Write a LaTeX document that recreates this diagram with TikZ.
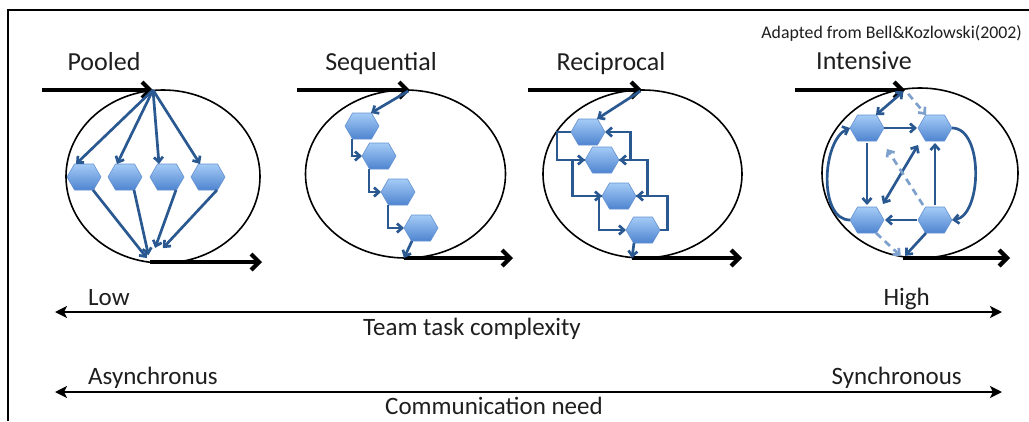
\documentclass[tikz,border=0pt]{standalone}
\usepackage{fontspec}
\setmainfont{Carlito}
\usetikzlibrary{arrows.meta,shapes.geometric,shapes.symbols,calc}

\definecolor{flowblue}{RGB}{42,88,145}
\definecolor{flowlight}{RGB}{125,160,205}
\definecolor{hextop}{RGB}{165,203,246}
\definecolor{hexbot}{RGB}{78,132,208}
\definecolor{hexedge}{RGB}{100,146,210}
\definecolor{inktext}{RGB}{30,30,30}

\begin{document}
\begin{tikzpicture}[x=1pt,y=-1pt,
  member/.style={signal, signal to=east and west, signal pointer angle=120,
    minimum width=34pt, minimum height=26pt, inner sep=0pt, outer sep=0pt,
    draw=hexedge, line width=0.6pt, top color=hextop, bottom color=hexbot},
  team/.style={ellipse, draw=black, line width=1.6pt, inner sep=0pt},
  flowin/.style={draw=black, line width=4.2pt, -{Straight Barb[length=8pt,width=16pt]}},
  link/.style={draw=flowblue, line width=2.7pt, -{Straight Barb[length=5pt,width=9pt]}},
  both/.style={link, {Straight Barb[length=5pt,width=9pt]}-{Straight Barb[length=5pt,width=9pt]}},
  soft/.style={link, draw=flowlight, dash pattern=on 7pt off 5pt},
  scale arrow/.style={draw=black, line width=2.8pt,
    {Stealth[length=12pt,width=12pt,inset=3pt]}-{Stealth[length=12pt,width=12pt,inset=3pt]}},
  heading/.style={font=\fontsize{26}{30}\selectfont, text=inktext, inner sep=0pt},
  axislabel/.style={font=\fontsize{25}{30}\selectfont, text=inktext, inner sep=0pt},
  source/.style={font=\fontsize{17.8}{20}\selectfont, text=inktext, inner sep=0pt}
]
\useasboundingbox (0,0) rectangle (1029,421);

% page frame (top and left rules)
\coordinate (frameBL) at (7.5,421);
\coordinate (frameTL) at (7.5,10);
\coordinate (frameTR) at (1029,10);
\draw[line width=2pt] (frameBL) -- (frameTL) -- (frameTR);

\node[source, anchor=base east] (src) at (1022,38) {Adapted from Bell\&Kozlowski(2002)};

% ---------------- Pooled ----------------
\node[heading, anchor=base] (tPool) at (104,70) {Pooled};
\node[team, minimum width=194pt, minimum height=173pt] (poolTeam) at (163,176.5) {};
\coordinate (poolIn0) at (42,90);
\coordinate (poolIn) at (153,90);
\coordinate (poolOut) at (150,262);
\coordinate (poolOut1) at (262,262);
\node[member] (p1) at (84,177) {};
\node[member] (p2) at (125,177) {};
\node[member] (p3) at (167,177) {};
\node[member] (p4) at (208,177) {};
\draw[flowin] (poolIn0) -- (poolIn);
\draw[flowin] (poolOut) -- (poolOut1);
\foreach \h in {p1,p2,p3,p4}
  \draw[link] (poolIn) -- ($(\h.north)+(-8,0)$);
\draw[link, shorten >=5pt] ($(p1.south)+(9,0)$) -- (poolOut);
\draw[link, shorten >=7pt] ($(p2.south)+(9,0)$) -- (poolOut);
\draw[link, shorten >=15pt] ($(p3.south)+(9,0)$) -- (poolOut);
\draw[link, shorten >=19pt] ($(p4.south)+(9,0)$) -- (poolOut);

% ---------------- Sequential ----------------
\node[heading, anchor=base] (tSeq) at (381,70) {Sequential};
\node[team, minimum width=200pt, minimum height=168pt] (seqTeam) at (405.5,174) {};
\coordinate (seqIn0) at (297,90);
\coordinate (seqIn) at (410,90);
\coordinate (seqOut) at (404,258);
\coordinate (seqOut1) at (513,258);
\node[member] (s1) at (362,126) {};
\node[member] (s2) at (379,156) {};
\node[member] (s3) at (398,192) {};
\node[member] (s4) at (421,228) {};
\draw[flowin] (seqIn0) -- (seqIn);
\draw[flowin] (seqOut) -- (seqOut1);
\draw[link, shorten <=2pt] (seqIn) -- ($(s1.north)+(9,0)$);
\draw[link] ($(s1.south)+(-10,0)$) |- (s2.west);
\draw[link] ($(s2.south)+(-10,0)$) |- (s3.west);
\draw[link] ($(s3.south)+(-10,0)$) |- (s4.west);
\draw[link] ($(s4.south)+(-9,0)$) -- (seqOut);

% ---------------- Reciprocal ----------------
\node[heading, anchor=base] (tRec) at (611,70) {Reciprocal};
\node[team, minimum width=199pt, minimum height=168pt] (recTeam) at (642.5,174) {};
\coordinate (recIn0) at (528,90);
\coordinate (recIn) at (642,90);
\coordinate (recOut) at (632,258);
\coordinate (recOut1) at (742,258);
\node[member] (r1) at (588,132) {};
\node[member] (r2) at (602,160) {};
\node[member] (r3) at (619,196) {};
\node[member] (r4) at (643,230) {};
\draw[flowin] (recIn0) -- (recIn);
\draw[flowin] (recOut) -- (recOut1);
\draw[link, shorten <=2pt] (recIn) -- ($(r1.north)+(9,0)$);
% downward links on the left
\draw[link] (r1.west) -- ++(-14,0) |- (r2.west);
\draw[link] (r2.west) -- ++(-12.5,0) |- (r3.west);
\draw[link] (r3.west) -- ++(-3,0) |- (r4.west);
% upward links on the right
\draw[link] (r2.east) -- ++(11.5,0) |- (r1.east);
\draw[link] (r3.east) -- ++(11.5,0) |- (r2.east);
\draw[link] (r4.east) -- ++(7.5,0) |- (r3.east);
\draw[link] ($(r4.south)+(-9,0)$) -- (recOut);

% ---------------- Intensive ----------------
\node[heading, anchor=base] (tInt) at (864,69) {Intensive};
\node[team, minimum width=196pt, minimum height=170pt] (intTeam) at (920,173) {};
\coordinate (intIn0) at (795,90);
\coordinate (intIn) at (905,90);
\coordinate (intOut) at (903,258);
\coordinate (intOut1) at (1010,258);
\node[member] (i1) at (867,128) {};
\node[member] (i2) at (935,128) {};
\node[member] (i3) at (867,220) {};
\node[member] (i4) at (935,220) {};
\draw[flowin] (intIn0) -- (intIn);
\draw[flowin] (intOut) -- (intOut1);
\draw[both, shorten <=2pt] (intIn) -- ($(i1.north)+(9,0)$);
\draw[soft, shorten <=5pt] (intIn) -- ($(i2.north)+(-9,0)$);
\draw[link, shorten >=1pt] (i1.east) -- (i2.west);
\draw[link, shorten <=2pt, shorten >=2pt] (i1.south) -- (i3.north);
\draw[link, shorten <=2pt, shorten >=2pt] (i4.north) -- (i2.south);
\draw[link, shorten <=1pt, shorten >=1pt] (i4.west) -- (i3.east);
\draw[both] ($(i3.north)+(16,-3)$) -- ($(i2.south)+(-17,4)$);
\draw[soft] ($(i4.north)+(-12,-2)$) -- ($(i1.south)+(20,8)$);
\draw[link] (i3.west) .. controls +(-32,0) and +(-28,12) .. (i1.west);
\draw[link] (i2.east) .. controls +(32,0) and +(30,-4) .. (i4.east);
\draw[soft, shorten >=3pt] ($(i3.south)+(9,0)$) -- (intOut);
\draw[link, shorten >=3pt] ($(i4.south)+(-9,0)$) -- (intOut);

% ---------------- scales ----------------
\coordinate (cplxL) at (55,312);
\coordinate (cplxR) at (1002,312);
\draw[scale arrow] (cplxL) -- (cplxR);
\node[axislabel, anchor=base west] (low) at (88,305) {Low};
\node[axislabel, anchor=base east] (high) at (930,305) {High};
\node[axislabel, anchor=base] (cplx) at (472,335) {Team task complexity};

\coordinate (commL) at (55,392);
\coordinate (commR) at (1002,392);
\draw[scale arrow] (commL) -- (commR);
\node[axislabel, anchor=base west] (async) at (88,384) {Asynchronus};
\node[axislabel, anchor=base east] (sync) at (962,384) {Synchronous};
\node[axislabel, anchor=base] (comm) at (494,414.5) {Communication need};
\end{tikzpicture}
\end{document}
